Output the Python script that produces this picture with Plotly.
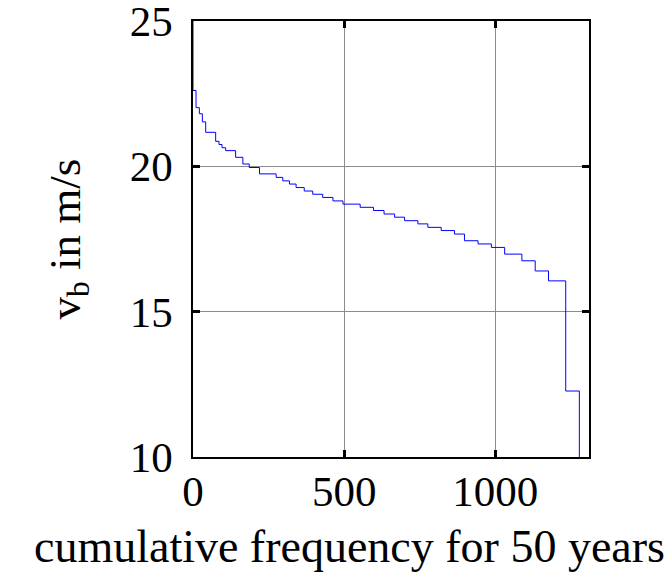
import plotly.graph_objects as go

# cumulative frequency (step start positions) and wind speed levels (m/s)
freq = [0, 0, 10, 21, 31, 42, 75, 86, 96, 108, 141, 165, 186, 220, 275, 297, 319, 341,
        368, 396, 429, 463, 496, 553, 597, 632, 667, 700, 744, 777, 821, 865, 898, 943,
        987, 1031, 1088, 1132, 1176, 1233, 1278]
speed = [25, 22.61, 22.02, 21.81, 21.53, 21.17, 20.86, 20.75, 20.64, 20.54, 20.31, 20.08,
         19.96, 19.74, 19.62, 19.50, 19.39, 19.27, 19.15, 19.04, 18.93, 18.81, 18.70,
         18.59, 18.48, 18.36, 18.25, 18.13, 18.02, 17.90, 17.79, 17.67, 17.44, 17.33,
         17.21, 16.98, 16.75, 16.40, 16.06, 12.27, 9.5]

x_ticks = [0, 500, 1000]
y_ticks = [10, 15, 20, 25]

font_family = "Liberation Serif"

fig = go.Figure()
fig.add_trace(go.Scatter(x=freq, y=speed, mode="lines", line=dict(color="#0000FF", width=1, shape="hv"),
                         showlegend=False, hoverinfo="skip", cliponaxis=True))

axis_common = dict(
    showgrid=True, gridcolor="#8c8c8c", gridwidth=1,
    showline=True, linecolor="black", linewidth=1.5, mirror="ticks",
    ticks="inside", ticklen=7, tickwidth=3, tickcolor="black",
    zeroline=False, automargin=False, ticklabeloverflow="allow",
    tickfont=dict(family=font_family, size=43, color="black"),
)

fig.update_xaxes(range=[0, 1310], tickvals=x_ticks, ticktext=[str(v) for v in x_ticks],
                 ticklabelstandoff=-4, **axis_common)
fig.update_yaxes(range=[10, 25], tickvals=y_ticks, ticktext=[str(v) for v in y_ticks],
                 ticklabelstandoff=10,
                 title=dict(text="v<sub>b</sub> in m/s", font=dict(family=font_family, size=45, color="black"),
                            standoff=35),
                 **axis_common)

fig.add_annotation(text="cumulative frequency for 50 years", xref="paper", yref="paper",
                   x=0.396, y=0, yshift=-62, xanchor="center", yanchor="top", showarrow=False,
                   font=dict(family=font_family, size=46, color="black"))

fig.update_layout(width=664, height=574, margin=dict(l=185, r=83, t=13, b=125, autoexpand=False),
                  plot_bgcolor="white", paper_bgcolor="white")

fig.write_html("out.html")
